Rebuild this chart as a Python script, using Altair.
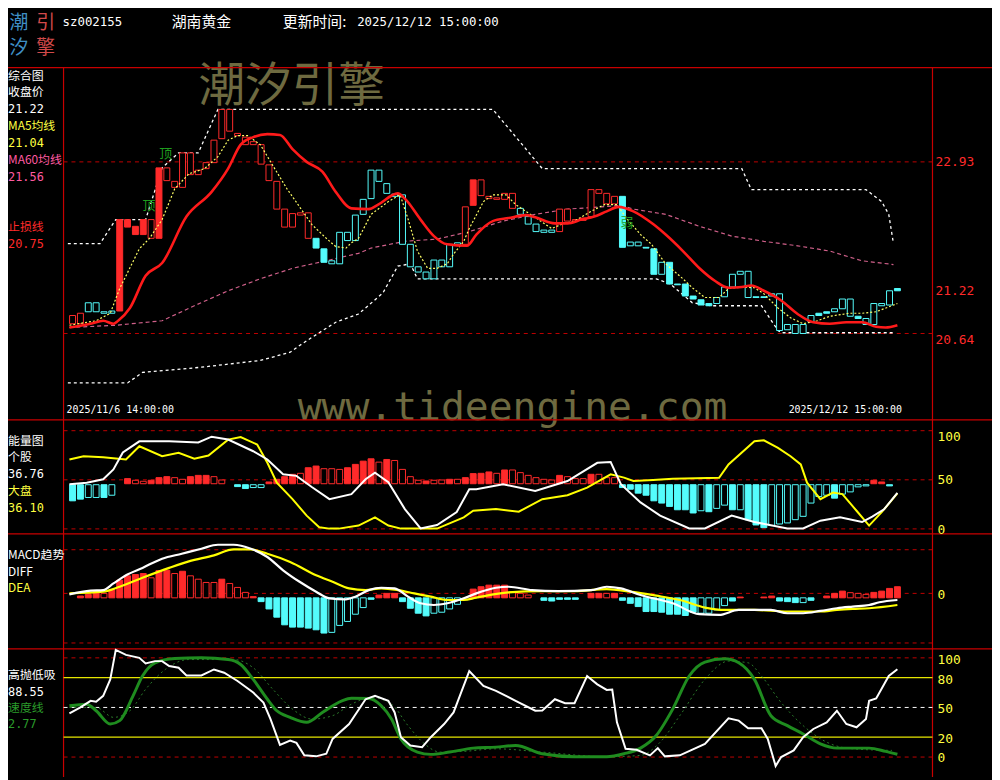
import altair as alt
import pandas as pd

# ---------------- data ----------------
N = 106
candle_lo = [20.77,20.77,20.93,20.93,20.91,20.91,20.94,22.06,21.96,21.96,
             21.91,21.91,22.68,22.59,22.59,22.76,22.76,22.84,22.92,23.24,
             23.34,23.28,23.16,23.16,22.90,22.68,22.30,22.06,22.06,22.22,
             21.91,21.78,21.59,21.57,21.57,21.88,21.88,22.23,22.44,22.67,
             22.51,22.47,21.83,21.53,21.46,21.37,21.37,21.53,21.53,21.82,
             21.83,22.35,22.48,22.44,22.43,22.43,22.31,22.23,22.10,22.00,
             21.99,21.99,22.00,22.14,22.14,22.15,22.20,22.51,22.37,22.37,
             21.79,21.81,21.81,21.78,21.43,21.43,21.30,21.29,21.14,21.10,
             21.02,21.01,21.04,21.13,21.26,21.43,21.12,21.12,21.12,21.14,
             20.68,20.69,20.64,20.64,20.79,20.88,20.91,20.93,20.97,20.87,
             20.84,20.76,20.76,21.01,21.02,21.21]
candle_hi = [20.88,20.91,21.05,21.05,20.93,20.94,22.16,22.16,22.07,22.16,
             22.16,22.85,22.85,22.67,23.05,23.05,22.82,22.92,23.22,23.63,
             23.63,23.31,23.26,23.20,23.16,22.89,22.67,22.30,22.24,22.25,
             22.25,21.91,21.77,21.61,21.99,21.99,22.22,22.43,22.82,22.82,
             22.64,22.50,22.49,21.83,21.53,21.46,21.62,21.62,21.83,21.85,
             22.33,22.69,22.69,22.47,22.45,22.51,22.51,22.31,22.20,22.10,
             22.02,22.02,22.30,22.30,22.16,22.18,22.56,22.56,22.51,22.47,
             22.47,21.86,21.86,21.79,21.77,21.59,21.59,21.30,21.30,21.14,
             21.09,21.04,21.12,21.26,21.43,21.47,21.47,21.13,21.13,21.17,
             21.17,20.76,20.76,20.76,20.88,20.91,20.93,20.97,21.10,21.10,
             20.87,20.84,21.04,21.04,21.21,21.24]
candle_style = ["RH","RH","CH","CH","CH","CH","RF","RF","RF","RF",
                "RH","RF","RH","RH","RH","RH","RH","RH","RH","RH",
                "RH","RH","RH","RH","RH","RH","RH","RH","RH","RH",
                "RH","CF","CF","CH","CH","CH","CH","CH","CH","CH",
                "CH","CH","CH","CH","CH","CH","CH","CH","CH","CH",
                "RH","RF","RH","RH","RH","RH","RH","CH","CH","CH",
                "CH","CH","RH","RH","RH","RF","RH","RH","RH","RH",
                "CF","CH","CH","CF","CF","CH","CF","CF","CF","CF",
                "CF","CF","CH","CH","CH","CH","CH","CF","CF","CH",
                "CH","CH","CH","CH","CH","CF","CF","CH","CH","CH",
                "CF","CH","CH","CH","CH","CF"]

ma5_x = [-0.4,3.0,4.8,6.0,8.5,9.8,11.4,13.0,14.8,16.8,18.5,19.8,21.0,22.3,23.9,25.5,27.3,28.9,30.5,32.3,
         33.5,34.8,35.5,36.4,38.0,40.2,41.7,42.7,43.9,45.2,46.4,47.7,48.5,49.8,50.5,52.3,53.5,55.2,56.4,57.7,
         59.3,61.0,62.3,63.9,66.0,67.7,69.3,70.5,72.3,73.7,75.5,77.7,78.9,80.5,82.3,83.5,85.2,86.8,88.0,89.8,
         91.4,93.0,94.8,96.4,98.9,100.5,102.3,105]
ma5_v = [20.75,20.81,20.91,21.24,21.77,21.91,22.16,22.57,22.77,22.84,23.00,23.22,23.28,23.28,23.16,22.88,22.57,22.33,22.09,21.91,
         21.80,21.78,21.85,21.91,22.23,22.40,22.49,22.17,21.74,21.51,21.51,21.57,21.70,21.87,22.04,22.40,22.49,22.49,22.36,22.27,
         22.16,22.04,22.10,22.14,22.27,22.36,22.36,22.18,21.96,21.83,21.57,21.37,21.25,21.12,21.12,21.24,21.26,21.25,21.17,20.98,
         20.85,20.77,20.81,20.87,20.91,20.91,20.93,21.04]
ma60_x = [-0.4,5.5,11.4,15.5,19.8,23.9,28.0,32.3,33.9,36.4,38.0,42.3,46.4,50.5,54.8,58.9,63.0,67.3,69.8,71.4,
          75.5,79.8,83.9,88.0,92.3,96.4,100.5,104.5]
ma60_v = [20.72,20.75,20.81,21.01,21.21,21.37,21.51,21.61,21.65,21.71,21.78,21.87,21.90,22.00,22.14,22.23,22.30,22.33,22.35,22.30,
          22.23,22.07,21.94,21.87,21.81,21.74,21.61,21.56]
stop_x = [-0.4,2.3,3.9,5.2,5.8,7.3,9.3,11.4,14.5,17.7,19.8,21.4,23.0,24.8,26.4,28.0,29.8,31.8,33.5,35.5,
          37.7,38.9,41.4,42.3,44.3,46.0,47.7,50.2,51.4,53.5,55.5,57.7,58.9,61.4,63.0,64.8,66.4,68.0,69.5,71.4,
          73.9,75.5,77.7,79.8,81.8,83.5,85.2,86.4,88.0,90.2,92.3,94.3,96.4,98.5,100.5,102.3,103.5,105]
stop_v = [20.72,20.77,20.81,20.77,20.81,20.98,21.41,21.58,22.20,22.53,22.84,23.16,23.26,23.30,23.29,23.10,22.93,22.80,22.53,22.31,
          22.30,22.36,22.51,22.44,22.16,21.94,21.83,21.81,21.96,22.14,22.18,22.22,22.19,22.11,22.11,22.16,22.20,22.27,22.33,22.27,
          22.10,21.96,21.74,21.51,21.34,21.25,21.26,21.28,21.21,21.08,20.90,20.79,20.77,20.79,20.79,20.73,20.72,20.75]
upper_x = [-0.6,3.5,5.5,9.3,11.4,13.5,16.0,18.5,53.5,59.8,85.2,86.4,101.0,103.0,103.9,104.5]
upper_v = [21.84,21.84,22.16,22.16,22.85,23.05,23.05,23.63,23.63,22.84,22.84,22.56,22.56,22.40,22.23,21.84]
lower_x = [-0.6,7.0,8.9,16.4,23.9,27.7,28.9,30.5,33.5,36.4,39.5,41.4,43.0,43.9,74.3,76.1,78.9,81.4,87.7,89.8,90.2,104.5]
lower_v = [19.98,19.98,20.12,20.19,20.28,20.39,20.48,20.59,20.79,20.90,21.18,21.54,21.57,21.37,21.37,21.30,21.05,21.01,21.01,20.68,20.65,20.65]

energy_val = [28.6,30.3,32,32,32,34.3,None,51.2,49.5,48.5,
              49.5,52.2,53.2,52.2,50.5,53.2,54.5,54.5,53.2,49.8,
              None,43.1,41.1,42.1,42.1,47.8,50.5,53.2,55.6,56.6,
              62.3,64,61.3,61.3,60.6,62.3,65.7,69,71.4,68,
              70.7,69.7,60.6,53.2,49.5,48.8,49.5,49.8,50.5,50.5,
              52.2,56.3,56.6,58,56.6,60,60,57.3,54.5,52.2,
              50.5,49.8,54.5,53.2,51.2,51.2,55.6,55.6,52.2,52.2,
              42.1,40.4,36.4,34.3,28.6,26.3,22.9,19.5,19.5,16.2,
              18.5,17.5,20.9,24.2,19.5,19.5,9.4,4,1.3,3.4,
              5,6.1,9.4,12.8,26.3,33,34.3,31.3,35.4,37.7,
              42.8,43.8,49.5,47.8,43.8,None]
energy_style = ["CF","CF","CH","CH","CF","CH","-","RF","RH","RH",
                "RF","RF","RF","RH","RH","RF","RF","RF","RH","RH",
                "-","CF","CF","CH","CH","RF","RF","RF","RF","RH",
                "RF","RF","RH","RH","RH","RF","RF","RF","RF","RH",
                "RF","RH","RH","RH","RH","RF","RH","RH","RF","RH",
                "RF","RF","RF","RF","RH","RF","RH","RH","RH","RH",
                "RH","RH","RF","RH","RH","RH","RF","RH","RH","RH",
                "CF","CF","CF","CF","CF","CF","CF","CF","CF","CF",
                "CH","CF","CH","CH","CF","CH","CF","CF","CF","CH",
                "CH","CH","CH","CH","CH","CH","CH","CF","CH","CH",
                "CH","CH","RF","RF","CF","-"]
stock_x = [-0.4,1.8,3.9,5.2,6.4,8.5,12.3,16.0,17.7,19.8,23.0,24.8,26.8,28.5,30.5,32.7,35.5,37.3,38.5,40.2,
           42.3,44.3,46.4,48.9,50.5,51.4,54.8,58.9,63.0,66.8,68.5,69.8,72.3,74.8,78.5,80.5,83.9,86.8,91.0,93.0,
           95.2,97.7,100.5,101.8,103.3,105]
stock_v = [45.5,47,50.5,60.6,77.8,89.2,89.2,88,93.9,91,79.1,70.7,55.6,54,42.4,30.3,35.4,50.5,57.3,47.5,
           20.2,0.5,4,17.2,40.4,40.4,45.5,38.7,48.8,67.3,68,45.5,27,13.5,0.5,0.5,13.5,7,0.5,0.5,
           8.4,11.8,7,12.5,20,36.76]
market_x = [-0.4,1.4,3.9,6.8,8.5,11.4,13.5,15.5,17.3,19.8,21.4,23.5,24.8,26.0,28.0,29.8,31.4,32.7,33.9,36.4,
            38.5,40.2,41.8,44.3,46.4,49.8,51.0,53.9,56.8,59.8,63.0,65.5,68.5,70.2,71.4,73.9,76.4,82.3,83.5,86.8,
            88.0,89.8,91.4,92.7,93.5,95.2,96.8,98.0,99.8,101.4,103.0,105]
market_v = [70.7,74,73,70.7,84.2,74,77.4,71.4,74.7,90.9,93.6,85.9,67.4,47.1,30.3,13.5,1.7,0.3,0.3,3.4,
            11.8,3.4,0.3,0.3,0.3,11.8,18.5,20.2,17.5,30.3,34.3,42.1,55.6,52.2,48.8,49.8,51,52,65.7,89.2,
            90.2,82.5,74,65.7,47.1,30.3,37,35.4,18.5,3.4,17,36.1]

macd_val = [None,-2.7,-1,1.7,0,3.3,13.3,17.7,19,20,
            15.7,23,23.3,20,22.3,17.7,14.3,11,11,14.3,
            10,6,1,-3.3,-8.3,-15.7,-24,-31.7,-34,-34,
            -35,-36.7,-40,-39.3,-32.3,-28.3,-21,-14.3,-6,-1.7,
            0,0,-8.3,-15,-20,-22.7,-20,-19,-15.7,-11,
            None,4.3,6.7,8.3,8.3,8.3,1.7,0,-1.7,None,
            -7,-7.7,-6,-6,-6,None,0,0,0,0,
            -7,-10,-13.3,-18.3,-18.3,-19,-21,-21,-22.3,-19,
            -20,-20,-16.7,-12.3,-7.7,-3.7,None,None,-3.7,-2.7,
            -7.7,-8.3,-9.3,-9.3,-7,None,-2.7,0,2.3,0.7,
            0,-1,1,2.3,5,6.7]
macd_style = ["-","RF","RF","RF","RH","RF","RF","RF","RF","RF",
              "RH","RF","RF","RH","RF","RH","RH","RH","RH","RF",
              "RH","RH","RH","RF","CF","CF","CF","CF","CF","CF",
              "CF","CF","CF","CH","CH","CH","CH","CH","CF","RF",
              "RF","RF","CF","CF","CF","CF","CH","CH","CH","CH",
              "-","RF","RF","RF","RF","RF","RH","RH","RH","-",
              "CF","CF","CF","CF","CF","-","RF","RF","RH","RF",
              "CF","CF","CF","CF","CF","CF","CF","CF","CF","CF",
              "CH","CH","CH","CH","CF","RF","-","-","RF","RF",
              "CF","CF","CF","CH","CF","-","RF","RF","RF","RH",
              "RH","RH","RF","RF","RF","RF"]
diff_x = [-0.4,2.3,3.9,5.2,6.8,8.9,11.4,13.9,16.4,18.5,20.5,22.7,24.8,26.8,28.9,31.0,32.7,34.8,36.0,37.7,
          39.3,41.0,42.7,44.3,46.0,47.7,49.8,51.4,53.9,55.5,58.5,61.8,66.0,68.0,69.8,72.3,76.4,79.8,82.3,84.8,
          88.9,91.0,93.0,95.2,97.3,99.3,101.4,102.7,105]
diff_v = [-1,2.7,3.3,10,18.3,25.7,35,40,45,49,49,45,36.7,23.3,11.7,1.7,-5,-6,-3.3,3.3,
          5.7,5,-3.3,-10,-11.7,-10,-5,0,5.7,6.7,3.3,2.3,3.3,6.7,5,-1.7,-10,-21,-21.7,-16.7,
          -16.7,-20,-20,-17.7,-15,-13.3,-11.7,-9,-6.7]
dea_x = [-0.4,3.9,6.0,8.9,12.3,14.8,18.0,20.5,22.7,24.8,27.7,31.0,33.1,35.2,37.3,39.3,41.4,43.5,45.6,47.7,
         49.8,51.4,55.5,59.8,63.9,68.0,71.0,74.3,77.3,80.5,83.0,86.8,91.0,95.2,97.3,99.3,101.4,105]
dea_v = [0,1.7,6.7,15.7,25.7,32.3,38.3,44.3,44.3,40,31.7,18.3,11.7,5,3.3,5,3.3,0,-3.3,-6.7,
         -6.7,-4.3,1,2.3,2.3,4.3,1.7,-2.3,-6.7,-14.3,-16.7,-16.7,-18.3,-18.3,-16.7,-15.7,-15,-11.7]

hl_x = [-0.4,1.0,2.3,3.0,3.9,4.8,5.5,6.8,8.5,9.3,10.5,11.4,12.3,13.5,14.5,16.4,18.0,19.3,21.0,23.0,
        24.3,25.2,26.4,27.7,28.5,29.5,31.0,32.3,33.1,35.2,37.3,38.5,40.2,41.0,41.8,43.0,44.5,45.6,47.3,48.5,
        49.3,50.5,52.3,53.9,56.4,58.9,59.8,61.4,62.7,63.9,65.5,66.8,68.0,68.7,69.3,70.4,71.8,73.5,74.5,75.4,
        77.3,80.5,83.5,84.8,86.0,87.7,88.5,89.5,90.2,91.8,93.0,94.3,96.0,97.3,98.5,99.8,101.0,101.4,102.3,103.9,105]
hl_v = [44,50,56.7,55.7,61.7,78.3,108,103,100,94.3,96.7,96.7,91.7,90,82.3,82.3,88.3,85,76.7,65,
        55,38.3,12.3,16.7,14.3,1.7,0.7,3.3,18.3,33.3,58.3,61.7,56.7,45,20,11.7,10,20,33.3,45,
        61.7,86.7,71.7,66.7,56.7,46.7,47,58.3,54.3,54.3,81.7,73.3,67.7,68,35,8.3,7.3,1.7,9,0.7,
        1.7,13.3,39,36.7,29,29,18.3,-9,0,6.7,20,28.3,35,46.7,33.3,30,38.3,56.7,59,81.7,88.55]
speed_x = [-0.4,1.8,3.0,4.8,6.0,7.7,8.9,10.5,13.0,16.4,19.8,21.4,23.0,24.8,26.0,27.7,29.8,31.8,34.3,35.5,
           37.7,39.3,40.6,41.8,43.9,45.6,48.0,51.0,53.9,56.4,59.8,63.9,68.0,70.2,72.3,74.3,76.4,78.5,80.5,83.0,
           84.8,86.8,88.9,91.0,93.0,95.2,97.3,99.3,101.4,103.5,105]
speed_v = [51.7,53.3,46.7,33.3,36.7,61.7,81.7,95,99.3,100,98.3,93.3,78.3,58.3,46.7,40,35,45,56.7,59.3,
           59,51.7,38.3,18.3,5,2.7,5,9,10,11.7,3.3,0.3,0.3,3.3,9,21.7,48.3,81.7,95.7,99,
           95,78.3,41.7,31.7,23.3,13.3,9,9,9,5.7,2.77]
speed2_x = [-0.4,3.0,5.2,7.3,9.3,11.8,14.8,20.5,23.0,25.5,28.0,30.5,33.1,35.5,38.0,40.6,42.7,44.8,46.8,49.8,
            53.9,59.8,68.0,72.3,74.8,77.3,80.5,83.5,86.0,87.7,90.2,93.0,96.0,99.3,104.3]
speed2_v = [50,50,40,46.7,68.3,88.3,98.3,98.3,90,68.3,48.3,38.3,41.7,53.3,60,53.3,31.7,13.3,5,5.7,
            8.3,5,0.3,1.7,15,41.7,78.3,96.7,95,81.7,55,31.7,15,8.3,6.7]

main_levels = [22.93, 20.64]
energy_levels = [100, 50, 0]
macd_levels = [44, 0, -50]
kd_red_levels = [100, 0]
kd_yellow_levels = [80, 20]
kd_white_levels = [50]

# ---------------- scales (plot px = page px - 8) ----------------
RED = "#ff2a2a"
CYAN = "#54fcfc"
FRAME = "#c80000"
XS = alt.Scale(domain=[-7.5875, 116.4125], nice=False, zero=False)


def sc(d, r):
    return alt.Scale(domain=d, range=r, nice=False, zero=False)


PS = sc([20.64, 22.93], [325, 152])
ES = sc([0, 100], [522, 423])
MS = sc([-50, 44], [637, 543])
BS = sc([0, 100], [752, 652])


def colorize(df, col="st"):
    df["strokec"] = [RED if s[0] == "R" else CYAN for s in df[col]]
    df["fillc"] = [(RED if s[0] == "R" else CYAN) if s[1] == "F" else "#000000" for s in df[col]]
    return df


def bars(df, lo, hi, scale):
    return alt.Chart(df).mark_bar(size=6, strokeWidth=1).encode(
        x=alt.X("i:Q", scale=XS, axis=None),
        y=alt.Y(f"{lo}:Q", scale=scale, axis=None),
        y2=f"{hi}:Q",
        fill=alt.Fill("fillc:N", scale=None),
        stroke=alt.Stroke("strokec:N", scale=None),
    )


def line(xs, vs, scale, color, width, dash=None, interp="linear"):
    df = pd.DataFrame({"i": xs, "v": vs})
    kw = dict(color=color, strokeWidth=width, interpolate=interp)
    if dash:
        kw["strokeDash"] = dash
    return alt.Chart(df).mark_line(**kw).encode(
        x=alt.X("i:Q", scale=XS, axis=None),
        y=alt.Y("v:Q", scale=scale, axis=None),
    )


def levels(vals, scale, color, dash=None, width=1):
    kw = dict(color=color, strokeWidth=width)
    if dash:
        kw["strokeDash"] = dash
    return alt.Chart(pd.DataFrame({"v": vals})).mark_rule(**kw).encode(
        y=alt.Y("v:Q", scale=scale, axis=None), x=alt.value(56), x2=alt.value(932)
    )


def texts(rows, font, size, align="left", baseline="middle", weight="normal"):
    df = pd.DataFrame(rows, columns=["px", "py", "t", "c"])
    return alt.Chart(df).mark_text(font=font, fontSize=size, align=align,
                                   baseline=baseline, fontWeight=weight).encode(
        x=alt.X("px:Q", scale=None, axis=None),
        y=alt.Y("py:Q", scale=None, axis=None),
        text="t:N",
        color=alt.Color("c:N", scale=None),
    )


CJK = "Noto Sans CJK SC"
MONO = "DejaVu Sans Mono"
OLIVE = "#6e6a40"

# frame lines
frame_df = pd.DataFrame({
    "x1": [0, 0, 0, 0, 56, 932],
    "x2": [992, 992, 992, 992, 56, 932],
    "y1": [57, 412, 527, 643, 57, 57],
    "y2": [57, 412, 527, 643, 772, 772],
})
frame = alt.Chart(frame_df).mark_rule(color=FRAME, strokeWidth=1.2).encode(
    x=alt.X("x1:Q", scale=None, axis=None), x2="x2:Q",
    y=alt.Y("y1:Q", scale=None, axis=None), y2="y2:Q",
)

# candle / bar tables
cdf = colorize(pd.DataFrame({"i": list(range(N)), "lo": candle_lo, "hi": candle_hi, "st": candle_style}))
edf = pd.DataFrame({"i": list(range(N)), "v": energy_val, "st": energy_style})
edf = edf[edf["st"] != "-"].copy()
edf["base"] = [46 if s[0] == "R" else 45 for s in edf["st"]]
edf = colorize(edf)
mdf = pd.DataFrame({"i": list(range(N)), "v": macd_val, "st": macd_style})
mdf = mdf[mdf["st"] != "-"].copy()
mdf["base"] = -4.5
mdf = colorize(mdf)

watermark = texts([(192, 77, "潮汐引擎", OLIVE)], CJK, 47)
watermark2 = texts([(292, 412, "www.tideengine.com", OLIVE)], MONO, 40, baseline="alphabetic")

logo = texts([(11, 12, "潮", "#3f8fc4"), (38, 12, "引", "#d24a4a"),
              (11, 37, "汐", "#3f8fc4"), (38, 37, "擎", "#d24a4a")], CJK, 19, align="center")
header_cjk = texts([(165, 11, "湖南黄金", "#ffffff"), (277, 11, "更新时间:", "#ffffff")], CJK, 15)
header_mono = texts([(55, 11, "sz002155", "#ffffff"), (352, 11, "2025/12/12 15:00:00", "#ffffff")], MONO, 12.5)

left_cjk = texts([
    (0, 65, "综合图", "#ffffff"), (0, 82, "收盘价", "#ffffff"),
    (0, 116, "MA5均线", "#ffff40"), (0, 150, "MA60均线", "#ff5aa0"),
    (0, 218, "止损线", "#ff2a2a"),
    (0, 433, "能量图", "#ffffff"), (0, 450, "个股", "#ffffff"), (0, 484, "大盘", "#ffff40"),
    (0, 548, "MACD趋势", "#ffffff"), (0, 565, "DIFF", "#ffffff"), (0, 582, "DEA", "#ffff40"),
    (0, 669, "高抛低吸", "#ffffff"), (0, 703, "速度线", "#2a9a2a"),
], CJK, 12)
left_mono = texts([
    (0, 99, "21.22", "#ffffff"), (0, 133, "21.04", "#ffff40"), (0, 167, "21.56", "#ff5aa0"),
    (0, 235, "20.75", "#ff2a2a"), (0, 467, "36.76", "#ffffff"), (0, 501, "36.10", "#ffff40"),
    (0, 686, "88.55", "#ffffff"), (0, 719, "2.77", "#2a9a2a"),
], MONO, 12)
right_mono = texts([
    (935, 152, "22.93", "#ff2a2a"), (935, 282, "21.22", "#ff2a2a"), (935, 332, "20.64", "#ff2a2a"),
    (937, 429, "100", "#ffff40"), (937, 473, "50", "#ffff40"), (937, 523, "0", "#ffff40"),
    (937, 589, "0", "#ffff40"),
    (937, 654, "100", "#ffff40"), (937, 674, "80", "#ffff40"), (937, 704, "50", "#ffff40"),
    (937, 734, "20", "#ffff40"), (937, 753, "0", "#ffff40"),
], MONO, 13)
dates = texts([(59, 402, "2025/11/6 14:00:00", "#ffffff"), (787, 402, "2025/12/12 15:00:00", "#ffffff")], MONO, 10)
notes = texts([(159, 144, "顶", "#1e9e1e"), (142, 196, "顶", "#1e9e1e"), (624, 214, "弱", "#1e9e1e")],
              CJK, 13, align="center")

layers = [
    watermark, watermark2, frame,
    levels(main_levels, PS, "#c00000", [4, 4]),
    levels(energy_levels, ES, "#c00000", [4, 4]),
    levels(macd_levels, MS, "#c00000", [4, 4]),
    levels(kd_red_levels, BS, "#c00000", [4, 4]),
    levels(kd_yellow_levels, BS, "#e6e600", None, 1.2),
    levels(kd_white_levels, BS, "#ffffff", [4, 4]),
    # main panel
    line(upper_x, upper_v, PS, "#ffffff", 1.3, [3, 3]),
    line(lower_x, lower_v, PS, "#ffffff", 1.3, [3, 3]),
    line(ma60_x, ma60_v, PS, "#d0608a", 1.2, [4, 3]),
    bars(cdf, "lo", "hi", PS),
    line(ma5_x, ma5_v, PS, "#ffff66", 1.2, [2, 2]),
    line(stop_x, stop_v, PS, "#ff1a1a", 2.6, None, "monotone"),
    # energy panel
    bars(edf, "base", "v", ES),
    line(market_x, market_v, ES, "#ffff00", 2),
    line(stock_x, stock_v, ES, "#ffffff", 2),
    # macd panel
    bars(mdf, "base", "v", MS),
    line(dea_x, dea_v, MS, "#ffff00", 2.2, None, "monotone"),
    line(diff_x, diff_v, MS, "#ffffff", 2.2, None, "monotone"),
    # bottom panel
    line(speed2_x, speed2_v, BS, "#2a7a2a", 1, [2, 3], "monotone"),
    line(speed_x, speed_v, BS, "#1f8c1f", 3, None, "monotone"),
    line(hl_x, hl_v, BS, "#ffffff", 2),
    logo, header_cjk, header_mono, left_cjk, left_mono, right_mono, dates, notes,
]

chart = alt.layer(*layers).resolve_scale(y="independent").properties(
    width=992, height=772, padding=0, autosize=alt.AutoSizeParams(type="none"),
).configure(background="#000000").configure_view(strokeWidth=0)

chart.save("out.html", embed_options={"renderer": "svg", "actions": False})
